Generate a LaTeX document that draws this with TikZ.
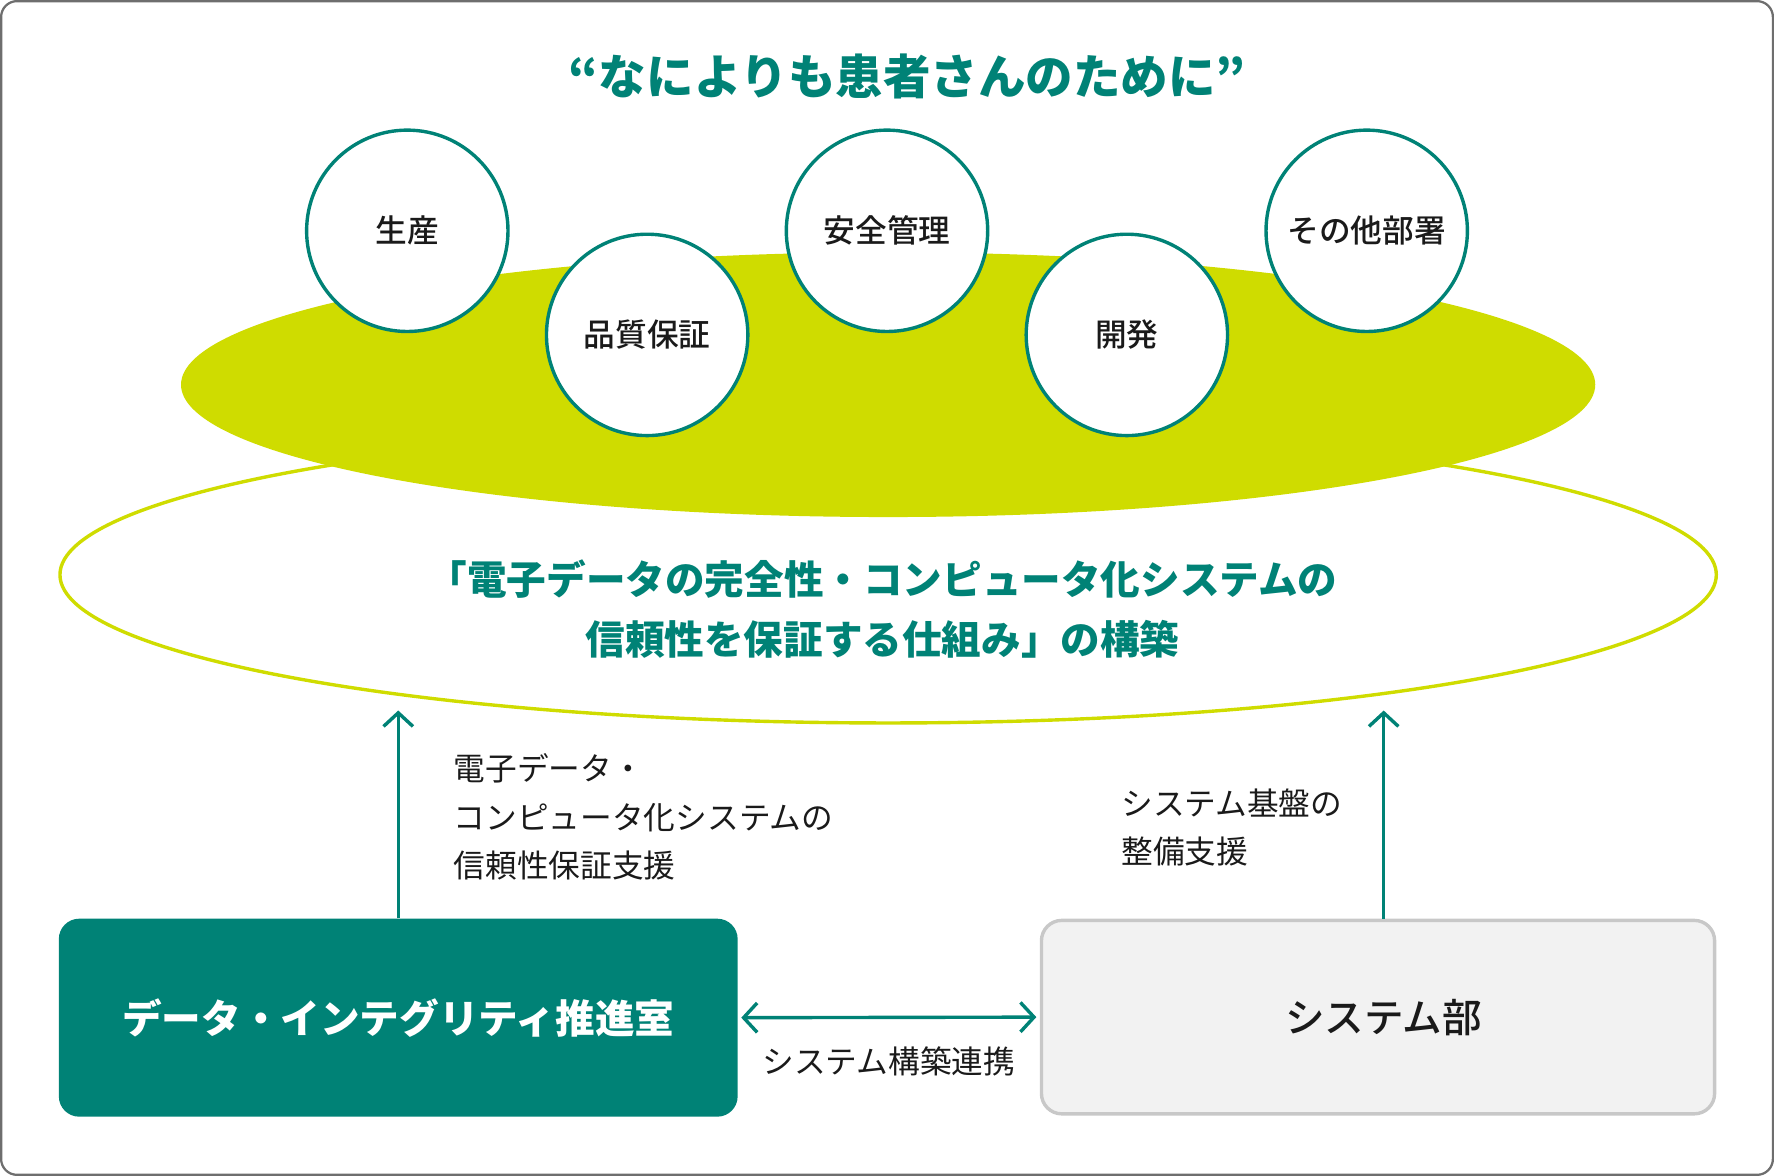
\documentclass[tikz,border=0pt]{standalone}
\usepackage{fontspec}
\setmainfont{Noto Sans CJK JP}
\newfontfamily\jpmedium{Noto Sans CJK JP Medium}
\usetikzlibrary{calc, arrows.meta, positioning}

\definecolor{diteal}{HTML}{008276}
\definecolor{dilime}{HTML}{CFDC00}
\definecolor{dipanel}{HTML}{F2F2F2}
\definecolor{diedge}{HTML}{C8C8C8}
\definecolor{diframe}{HTML}{6E6E6E}
\definecolor{ditext}{HTML}{1A1A1A}

\tikzset{
   barb/.tip = {Straight Barb[length=12pt, width=26pt]},
   dept/.style = {circle, draw=diteal, line width=3pt, fill=white, minimum size=178pt,
      inner sep=0pt, text=ditext, font=\jpmedium\fontsize{28}{34}\selectfont},
   officebox/.style = {rounded corners=18pt, minimum width=600pt, minimum height=175pt,
      font=\bfseries\fontsize{35}{42}\selectfont},
   lbl/.style = {align=left, inner sep=0pt, text=ditext, font=\fontsize{28}{42.5}\selectfont},
   link/.style = {draw=diteal, line width=3pt, -barb},
   twoway/.style = {link, barb-barb, shorten <=3pt, shorten >=3pt}
}

\begin{document}
\begin{tikzpicture}[x=1pt, y=-1pt]
   \useasboundingbox (0,0) rectangle (1568,1039.4);
   \draw[diframe, line width=2pt, rounded corners=14pt] (1,1) rectangle (1567,1038.4);

   % the two ellipses
   \draw[dilime, line width=3pt] (785,508) ellipse [x radius=732pt, y radius=131pt];
   \fill[dilime] (785,340) ellipse [x radius=625pt, y radius=117pt];

   \node[text=diteal, font=\bfseries\fontsize{42}{50}\selectfont] (motto) at (802,68) {“なによりも患者さんのために”};

   \node[dept] (prod)   at (360,204)  {生産};
   \node[dept] (qa)     at (572,296)  {品質保証};
   \node[dept] (safety) at (784,204)  {安全管理};
   \node[dept] (dev)    at (996,296)  {開発};
   \node[dept] (other)  at (1208,204) {その他部署};

   \node[text=diteal, align=center, font=\bfseries\fontsize{35}{53}\selectfont] (goal) at (780,538)
      {「電子データの完全性・コンピュータ化システムの\\信頼性を保証する仕組み」の構築};

   \node[officebox, fill=diteal, text=white] (dio) at (352,899.5) {データ・インテグリティ推進室};
   \node[officebox, fill=dipanel, draw=diedge, line width=3pt, text=ditext, font=\jpmedium\fontsize{35}{42}\selectfont,
      minimum width=595pt, minimum height=171pt] (sys) at (1218,899) {\hspace*{10pt}システム部};

   \coordinate (tipl) at (352,628);
   \coordinate (tipr) at (1223,628);
   \draw[link] (dio.north) -- (tipl);
   \draw[link] (sys.north -| tipr) -- (tipr);
   \draw[twoway] (dio.east) -- node[lbl, below=24pt] (coop) {システム構築連携} (sys.west);

   \node[lbl, anchor=west] (dilbl) at (401,722) {電子データ・\\コンピュータ化システムの\\信頼性保証支援};
   \node[lbl, anchor=west] (syslbl) at (991,731) {システム基盤の\\整備支援};
\end{tikzpicture}
\end{document}
